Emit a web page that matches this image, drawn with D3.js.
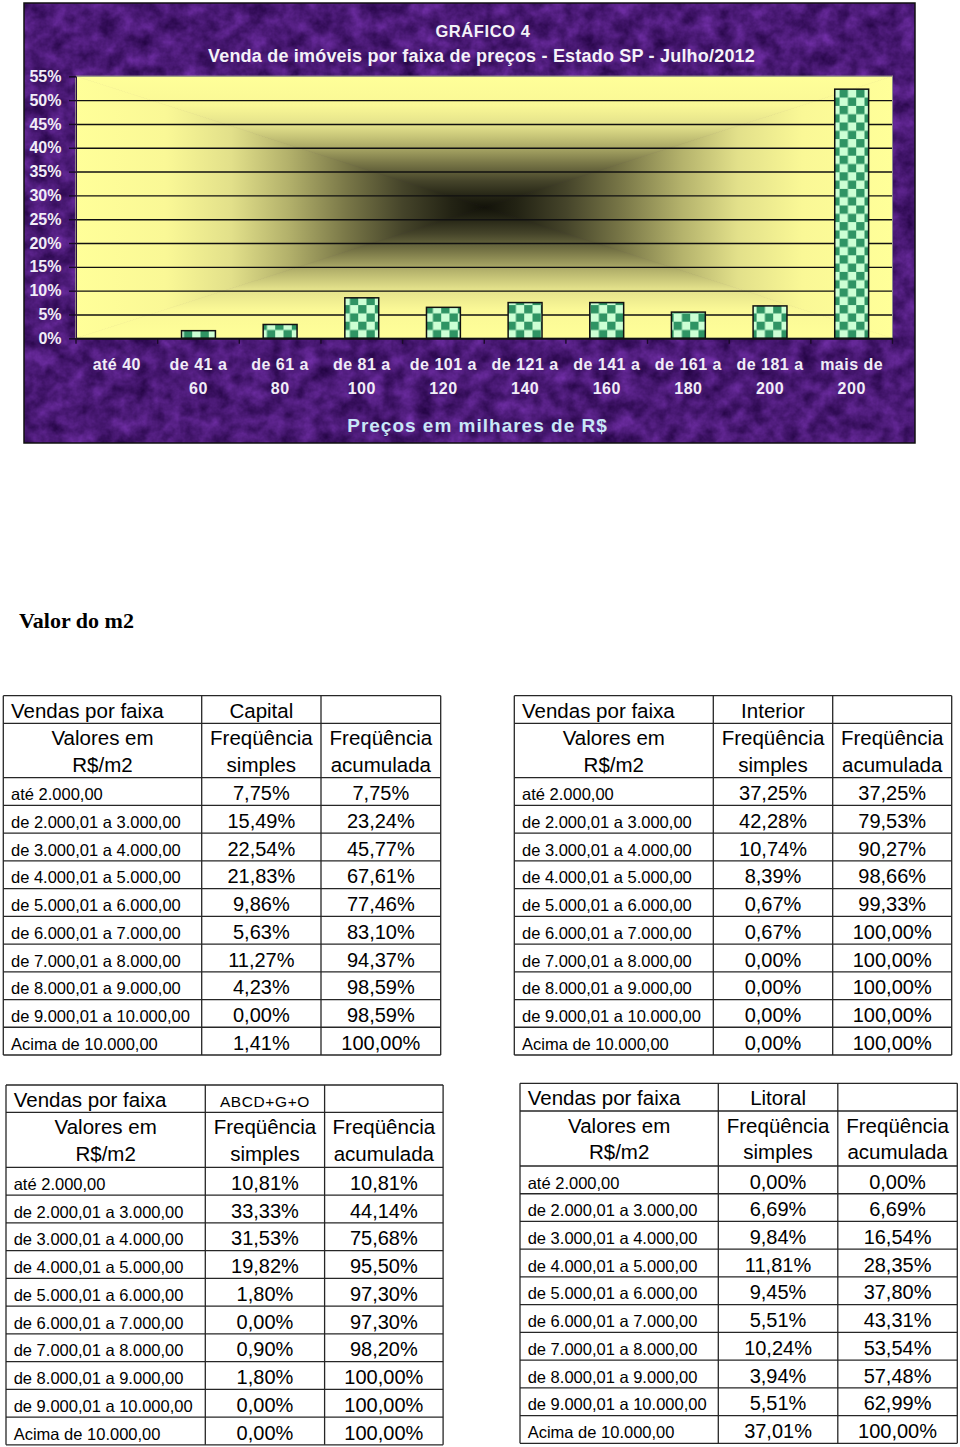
<!DOCTYPE html>
<html>
<head>
<meta charset="utf-8">
<script src="https://cdn.jsdelivr.net/npm/d3@7"></script>
<style>
  body { margin: 0; background: #ffffff; }
  svg { display: block; }
</style>
</head>
<body>
<script>
// ---------------- DATA ----------------
const categories = ["até 40", "de 41 a 60", "de 61 a 80", "de 81 a 100", "de 101 a 120",
                    "de 121 a 140", "de 141 a 160", "de 161 a 180", "de 181 a 200", "mais de 200"];
const categoryLines = [["até 40"], ["de 41 a", "60"], ["de 61 a", "80"], ["de 81 a", "100"],
                       ["de 101 a", "120"], ["de 121 a", "140"], ["de 141 a", "160"],
                       ["de 161 a", "180"], ["de 181 a", "200"], ["mais de", "200"]];
const salesShare = [0, 1.6, 2.9, 8.5, 6.5, 7.5, 7.5, 5.5, 6.8, 52.3];
const yTicks = [0, 5, 10, 15, 20, 25, 30, 35, 40, 45, 50, 55];

const chartTitle = "GRÁFICO 4";
const chartSubtitle = "Venda de imóveis por faixa de preços - Estado SP - Julho/2012";
const xAxisTitle = "Preços em milhares de R$";
const sectionTitle = "Valor do m2";

const faixas = ["até 2.000,00", "de 2.000,01 a 3.000,00", "de 3.000,01 a 4.000,00",
                "de 4.000,01 a 5.000,00", "de 5.000,01 a 6.000,00", "de 6.000,01 a 7.000,00",
                "de 7.000,01 a 8.000,00", "de 8.000,01 a 9.000,00", "de 9.000,01 a 10.000,00",
                "Acima de 10.000,00"];
const capitalSimples   = [7.75, 15.49, 22.54, 21.83, 9.86, 5.63, 11.27, 4.23, 0.00, 1.41];
const capitalAcumulada = [7.75, 23.24, 45.77, 67.61, 77.46, 83.10, 94.37, 98.59, 98.59, 100.00];
const interiorSimples   = [37.25, 42.28, 10.74, 8.39, 0.67, 0.67, 0.00, 0.00, 0.00, 0.00];
const interiorAcumulada = [37.25, 79.53, 90.27, 98.66, 99.33, 100.00, 100.00, 100.00, 100.00, 100.00];
const abcdSimples   = [10.81, 33.33, 31.53, 19.82, 1.80, 0.00, 0.90, 1.80, 0.00, 0.00];
const abcdAcumulada = [10.81, 44.14, 75.68, 95.50, 97.30, 97.30, 98.20, 100.00, 100.00, 100.00];
const litoralSimples   = [0.00, 6.69, 9.84, 11.81, 9.45, 5.51, 10.24, 3.94, 5.51, 37.01];
const litoralAcumulada = [0.00, 6.69, 16.54, 28.35, 37.80, 43.31, 53.54, 57.48, 62.99, 100.00];

// ---------------- SETUP ----------------
const W = 960, H = 1447;
const svg = d3.select("body").append("svg").attr("width", W).attr("height", H);
const defs = svg.append("defs");
const SANS = "'Liberation Sans', Arial, sans-serif";

// chart frame
const frame = { x: 24, y: 3, w: 891, h: 440 };

// purple mottled texture
const tex = defs.append("filter").attr("id", "purpleTex")
  .attr("filterUnits", "userSpaceOnUse")
  .attr("x", frame.x).attr("y", frame.y).attr("width", frame.w).attr("height", frame.h)
  .attr("color-interpolation-filters", "sRGB");
tex.append("feTurbulence").attr("type", "fractalNoise").attr("baseFrequency", "0.06")
  .attr("numOctaves", 4).attr("seed", 11).attr("result", "n");
tex.append("feColorMatrix").attr("in", "n").attr("type", "matrix")
  .attr("values", "0.36 0 0 0 0.11  0.2 0 0 0 0.0  0.46 0 0 0 0.23  0 0 0 0 1");

svg.append("rect").attr("x", frame.x).attr("y", frame.y).attr("width", frame.w).attr("height", frame.h)
  .attr("fill", "#4a1a7a").attr("filter", "url(#purpleTex)");

// scales
const plot = { left: 76, right: 892.5 };
const x = d3.scaleBand().domain(categories).range([plot.left, plot.right])
  .paddingInner(0.585).paddingOuter(0.2925);
const y = d3.scaleLinear().domain([0, 55]).range([338.3, 76.3]);

const px0 = plot.left, px1 = plot.right, py0 = y(55), py1 = y(0);
const cx = (px0 + px1) / 2, cy = (py0 + py1) / 2;

// rectangular "from center" gradient built from four triangles
const gStops = [[0, "#FFFF99"], [0.22, "#FAF896"], [0.38, "#E2E08A"], [0.52, "#B3B16B"],
                [0.66, "#7A7848"], [0.8, "#45442A"], [0.92, "#232314"], [1, "#121209"]];
function makeGrad(id, x1, y1, x2, y2) {
  const g = defs.append("linearGradient").attr("id", id).attr("gradientUnits", "userSpaceOnUse")
    .attr("x1", x1).attr("y1", y1).attr("x2", x2).attr("y2", y2);
  gStops.forEach(s => g.append("stop").attr("offset", s[0]).attr("stop-color", s[1]));
}
makeGrad("gT", cx, py0, cx, cy);
makeGrad("gB", cx, py1, cx, cy);
makeGrad("gL", px0, cy, cx, cy);
makeGrad("gR", px1, cy, cx, cy);
const bg = svg.append("g");
[["gL", `M${px0},${py0}L${cx},${cy}L${px0},${py1}Z`],
 ["gR", `M${px1},${py0}L${cx},${cy}L${px1},${py1}Z`],
 ["gT", `M${px0},${py0}L${px1},${py0}L${cx},${cy}Z`],
 ["gB", `M${px0},${py1}L${px1},${py1}L${cx},${cy}Z`]].forEach(([id, d]) => {
  bg.append("path").attr("d", d).attr("fill", `url(#${id})`)
    .attr("stroke", `url(#${id})`).attr("stroke-width", 0.8);
});

// gridlines
svg.append("g").attr("transform", `translate(${px0},0)`)
  .call(d3.axisLeft(y).tickValues(yTicks.filter(t => t > 0 && t < 55))
    .tickSize(-(px1 - px0)).tickFormat(""))
  .call(g => g.select(".domain").remove())
  .call(g => g.selectAll(".tick line").attr("stroke", "#111").attr("stroke-width", 1.4));

// plot border
svg.append("rect").attr("x", px0).attr("y", py0).attr("width", px1 - px0).attr("height", py1 - py0)
  .attr("fill", "none").attr("stroke", "#8a8a8a").attr("stroke-width", 1);

// checkerboard pattern
const sq = 8.3;
const pat = defs.append("pattern").attr("id", "checker").attr("patternUnits", "userSpaceOnUse")
  .attr("x", px0).attr("y", y(0)).attr("width", sq * 2).attr("height", sq * 2);
pat.append("rect").attr("width", sq * 2).attr("height", sq * 2).attr("fill", "#CCFFD4");
pat.append("rect").attr("x", 0).attr("y", 0).attr("width", sq).attr("height", sq).attr("fill", "#2F9464");
pat.append("rect").attr("x", sq).attr("y", sq).attr("width", sq).attr("height", sq).attr("fill", "#2F9464");

// bars
svg.append("g").selectAll("rect").data(categories.map((c, i) => ({ c, v: salesShare[i] })).filter(d => d.v > 0))
  .join("rect")
  .attr("x", d => x(d.c)).attr("width", x.bandwidth())
  .attr("y", d => y(d.v)).attr("height", d => y(0) - y(d.v))
  .attr("fill", "url(#checker)").attr("stroke", "#111").attr("stroke-width", 1.5);

// y axis
svg.append("g").attr("transform", `translate(${px0},0)`)
  .call(d3.axisLeft(y).tickValues(yTicks).tickSize(7).tickPadding(7.5).tickFormat(d => d + "%"))
  .call(g => g.select(".domain").attr("stroke", "#2a1040").attr("stroke-width", 1))
  .call(g => g.selectAll(".tick line").attr("stroke", "#1a0a28").attr("stroke-width", 1.4))
  .call(g => g.selectAll(".tick text").attr("fill", "#F1EDF7")
    .style("font", `bold 16px ${SANS}`));

// x axis
const boundaries = categories.map(c => x(c) - (x.step() - x.bandwidth()) / 2).concat([px1]);
svg.append("g").selectAll("line").data(boundaries).join("line")
  .attr("x1", d => d).attr("x2", d => d).attr("y1", y(0)).attr("y2", y(0) + 5.5)
  .attr("stroke", "#1a0a28").attr("stroke-width", 1.4);

const xAxisG = svg.append("g").attr("transform", `translate(0,${y(0)})`)
  .call(d3.axisBottom(x).tickSize(0).tickSizeOuter(0))
  .call(g => g.select(".domain").attr("stroke", "#111").attr("stroke-width", 2));
xAxisG.selectAll(".tick text").each(function (d) {
  const t = d3.select(this);
  const lines = categoryLines[categories.indexOf(d)];
  t.text(null).attr("y", null).attr("dy", null)
    .attr("fill", "#F1EDF7").style("font", `bold 16px ${SANS}`).style("letter-spacing", "0.5px");
  lines.forEach((ln, k) => t.append("tspan").attr("x", 0).attr("y", 31.7 + k * 24).text(ln));
});

// titles
svg.append("text").attr("x", 483).attr("y", 36.5).attr("text-anchor", "middle")
  .attr("fill", "#F4F2F8").style("font", `bold 16.5px ${SANS}`).style("letter-spacing", "0.6px")
  .text(chartTitle);
svg.append("text").attr("x", 481.5).attr("y", 61.5).attr("text-anchor", "middle")
  .attr("fill", "#F4F2F8").style("font", `bold 18px ${SANS}`).style("letter-spacing", "0.2px")
  .text(chartSubtitle);
svg.append("text").attr("x", 477.5).attr("y", 432).attr("text-anchor", "middle")
  .attr("fill", "#C9E7F7").style("font", `bold 19px ${SANS}`).style("letter-spacing", "1px")
  .text(xAxisTitle);

// frame border
svg.append("rect").attr("x", frame.x).attr("y", frame.y).attr("width", frame.w).attr("height", frame.h)
  .attr("fill", "none").attr("stroke", "#111").attr("stroke-width", 1.5);

// section title
svg.append("text").attr("x", 19).attr("y", 628).attr("fill", "#000")
  .style("font", "bold 22px 'Liberation Serif', 'Times New Roman', serif").text(sectionTitle);

// ---------------- TABLES ----------------
const ptBR = d3.formatLocale({ decimal: ",", thousands: ".", grouping: [3], currency: ["R$", ""] });
const pct = v => ptBR.format(".2f")(v) + "%";

function drawTable(cfg) {
  const g = svg.append("g");
  const [w1, w2, w3] = cfg.cols;
  const xs = [cfg.x0, cfg.x0 + w1, cfg.x0 + w1 + w2, cfg.x0 + w1 + w2 + w3];
  const rowTops = [cfg.y0, cfg.y0 + cfg.h1];
  const dataTop = cfg.y0 + cfg.h1 + cfg.h2;
  faixas.forEach((f, i) => rowTops.push(dataTop + i * cfg.hd));
  const bottom = dataTop + faixas.length * cfg.hd;
  const stroke = "#262626", sw = 1.3;

  g.append("rect").attr("x", xs[0]).attr("y", cfg.y0).attr("width", xs[3] - xs[0])
    .attr("height", bottom - cfg.y0).attr("fill", "#fff");
  rowTops.concat([bottom]).forEach(yy => g.append("line").attr("x1", xs[0]).attr("x2", xs[3])
    .attr("y1", yy).attr("y2", yy).attr("stroke", stroke).attr("stroke-width", sw));
  xs.forEach(xx => g.append("line").attr("x1", xx).attr("x2", xx).attr("y1", cfg.y0).attr("y2", bottom)
    .attr("stroke", stroke).attr("stroke-width", sw));

  const c1 = (xs[0] + xs[1]) / 2, c2 = (xs[1] + xs[2]) / 2, c3 = (xs[2] + xs[3]) / 2;
  const head = `20.5px ${SANS}`;
  const txt = (xx, yy, s, font, anchor, ls) => g.append("text").attr("x", xx).attr("y", yy)
    .attr("text-anchor", anchor || "start").attr("fill", "#000").style("font", font)
    .style("letter-spacing", ls || "0px").text(s);

  txt(xs[0] + 7.7, cfg.y0 + 22, "Vendas por faixa", head);
  txt(c2, cfg.y0 + 22, cfg.region, cfg.regionFont || head, "middle", cfg.regionLs);
  const r2 = cfg.y0 + cfg.h1;
  txt(c1, r2 + 21.7, "Valores em", head, "middle");
  txt(c1, r2 + 48.4, "R$/m2", head, "middle");
  txt(c2, r2 + 21.7, "Freqüência", head, "middle");
  txt(c2, r2 + 48.4, "simples", head, "middle");
  txt(c3, r2 + 21.7, "Freqüência", head, "middle");
  txt(c3, r2 + 48.4, "acumulada", head, "middle");
  faixas.forEach((f, i) => {
    const yy = dataTop + i * cfg.hd + 22.5;
    txt(xs[0] + 7.7, yy, f, `16.5px ${SANS}`);
    txt(c2, yy, pct(cfg.simples[i]), `20px ${SANS}`, "middle");
    txt(c3, yy, pct(cfg.acumulada[i]), `20px ${SANS}`, "middle");
  });
}

drawTable({ x0: 3.3, y0: 695.7, cols: [198.4, 119.3, 119.7], h1: 27.6, h2: 54.4, hd: 27.73,
            region: "Capital", simples: capitalSimples, acumulada: capitalAcumulada });
drawTable({ x0: 514.3, y0: 695.7, cols: [199, 119.4, 119], h1: 27.6, h2: 54.4, hd: 27.73,
            region: "Interior", simples: interiorSimples, acumulada: interiorAcumulada });
drawTable({ x0: 6, y0: 1085, cols: [199.3, 119.3, 118.5], h1: 27.3, h2: 55, hd: 27.75,
            region: "ABCD+G+O", regionFont: `15.5px ${SANS}`, regionLs: "0.6px",
            simples: abcdSimples, acumulada: abcdAcumulada });
drawTable({ x0: 520, y0: 1083.3, cols: [198.3, 119.5, 119.5], h1: 27.7, h2: 55, hd: 27.73,
            region: "Litoral", simples: litoralSimples, acumulada: litoralAcumulada });
</script>
</body>
</html>
